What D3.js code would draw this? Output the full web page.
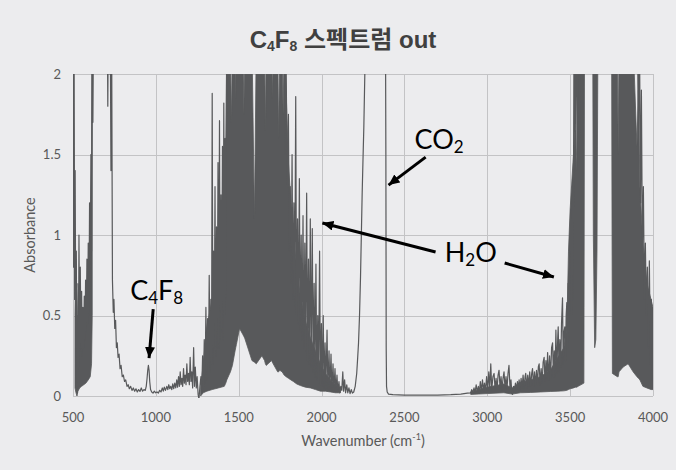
<!DOCTYPE html>
<html>
<head>
<meta charset="utf-8">
<script src="https://cdn.jsdelivr.net/npm/d3@7"></script>
<style>
  body { margin: 0; background: #ececee; }
  svg { display: block; }
</style>
</head>
<body>
<svg id="chart" width="676" height="470"></svg>
<script>
// tick values
var xTicks = [500, 1000, 1500, 2000, 2500, 3000, 3500, 4000];
var yTicks = [0, 0.5, 1, 1.5, 2];

// trace, [wavenumber, absorbance]
var lowRange = [[500,2.5],[503,0.8],[506,2.5],[510,0.6],[513,1.4],[517,0.3],[520,0.9],[523,0.12],[526,0.02],[529,0.5],[533,0.18],[536,1.0],[540,0.3],[544,0.8],[548,0.28],[552,0.65],[556,0.25],[560,0.55],[564,0.3],[568,0.62],[572,0.35],[576,0.72],[580,0.4],[584,0.85],[588,0.45],[592,0.95],[596,0.5],[600,1.2],[604,0.65],[608,1.5],[612,0.9],[616,2.5],[620,1.7],[625,2.5],[629,2.1],[634,2.5],[700,2.6],[706,2.5],[710,1.8],[714,2.5],[719,2.0],[724,2.5],[729,1.4],[733,2.3],[738,0.72],[743,0.52],[747,0.6],[752,0.42],[757,0.47],[762,0.3],[767,0.33],[772,0.24],[778,0.26],[784,0.17],[790,0.19],[797,0.12],[804,0.13],[811,0.09],[818,0.1],[826,0.06],[833,0.07],[840,0.045],[848,0.06],[856,0.035],[864,0.05],[872,0.03],[880,0.045],[888,0.025],[896,0.04],[904,0.028],[912,0.05],[920,0.03],[928,0.04],[936,0.035],[942,0.06],[947,0.11],[951,0.16],[955,0.19],[959,0.16],[963,0.09],[968,0.04],[975,0.025],[983,0.018],[991,0.03],[999,0.02],[1007,0.025],[1015,0.018],[1023,0.035],[1031,0.025],[1039,0.05],[1045,0.03],[1051,0.055],[1058,0.035],[1066,0.06],[1072,0.04],[1078,0.07],[1084,0.045],[1090,0.06],[1096,0.04],[1102,0.075],[1108,0.045],[1114,0.08],[1120,0.05],[1126,0.1],[1131,0.055],[1137,0.12],[1142,0.06],[1147,0.15],[1152,0.07],[1157,0.11],[1162,0.06],[1167,0.17],[1172,0.08],[1177,0.13],[1182,0.07],[1187,0.2],[1192,0.09],[1197,0.14],[1202,0.07],[1207,0.24],[1212,0.09],[1217,0.15],[1222,0.05],[1228,0.3],[1233,0.06],[1238,0.18],[1244,0.05],[1249,0.12],[1255,0.01],[1260,-0.02],[1266,0.06]];

var bendSpikes = [[1272,0.12],[1277,0.03],[1282,0.25],[1287,0.05],[1292,0.35],[1297,0.08],[1302,0.55],[1307,0.1],[1312,0.48],[1317,0.12],[1322,0.75],[1327,0.15],[1332,0.6],[1336,0.2],[1340,1.88],[1344,0.2],[1348,0.9],[1352,0.3],[1357,1.3],[1361,0.25],[1366,1.05],[1370,0.3],[1375,1.45],[1379,0.3],[1384,1.71],[1388,0.35],[1393,1.25],[1397,0.4],[1402,1.55],[1406,0.35],[1410,1.82],[1414,0.5],[1418,1.6],[1422,0.6],[1428,2.4],[1775,2.4],[1780,1.5],[1785,2.2],[1790,1.61],[1795,1.3],[1800,1.75],[1805,0.9],[1811,1.3],[1816,0.7],[1822,1.5],[1827,0.6],[1833,1.2],[1838,0.55],[1844,1.86],[1849,0.5],[1855,1.1],[1860,0.45],[1866,1.35],[1871,0.4],[1877,1.0],[1882,0.35],[1888,1.12],[1893,0.3],[1899,0.95],[1904,0.28],[1910,1.26],[1915,0.22],[1921,0.85],[1926,0.2],[1932,1.1],[1937,0.18],[1944,1.04],[1949,0.15],[1955,0.7],[1960,0.12],[1966,0.82],[1971,0.1],[1977,0.5],[1982,0.08],[1988,0.9],[1993,0.07],[1999,0.45],[2004,0.06],[2010,0.5],[2015,0.05],[2021,0.33],[2026,0.045],[2033,0.41],[2038,0.04],[2045,0.28],[2050,0.035],[2057,0.26],[2062,0.03],[2069,0.2],[2074,0.03],[2081,0.17],[2086,0.025],[2093,0.13],[2098,0.025],[2105,0.09],[2110,0.02],[2116,0.06]];

var co2Range = [[2122,0.035],[2128,0.15],[2133,0.03],[2139,0.1],[2145,0.02],[2152,0.07],[2158,0.02],[2165,0.05],[2172,0.015],[2179,0.04],[2186,0.018],[2194,0.025],[2203,0.06],[2212,0.14],[2218,0.24],[2223,0.33],[2229,0.5],[2235,0.74],[2240,1.0],[2245,1.26],[2250,1.47],[2255,1.67],[2261,2.0],[2266,2.5],[2385,2.5],[2388,1.5],[2390,0.3],[2392,0.06],[2396,0.025],[2404,0.012],[2430,0.008],[2500,0.006],[2600,0.005],[2700,0.006],[2780,0.008],[2840,0.012],[2880,0.018],[2900,0.02]];

var stretchSpikes = [[2906,0.04],[2912,0.02],[2920,0.05],[2926,0.02],[2933,0.07],[2939,0.025],[2946,0.06],[2952,0.02],[2958,0.09],[2964,0.03],[2971,0.1],[2977,0.03],[2983,0.08],[2989,0.03],[2996,0.12],[3002,0.035],[3009,0.15],[3015,0.04],[3021,0.2],[3027,0.04],[3034,0.12],[3041,0.14],[3047,0.04],[3053,0.11],[3059,0.04],[3065,0.13],[3071,0.16],[3077,0.05],[3083,0.12],[3089,0.04],[3095,0.11],[3101,0.15],[3107,0.05],[3113,0.12],[3119,0.045],[3125,0.14],[3131,0.19],[3137,0.05],[3143,0.1],[3148,0.02],[3152,0.01],[3158,0.06],[3164,0.03],[3170,0.08],[3176,0.04],[3182,0.09],[3188,0.04],[3192,0.1],[3198,0.04],[3204,0.11],[3210,0.05],[3216,0.13],[3222,0.05],[3228,0.12],[3232,0.14],[3238,0.05],[3244,0.13],[3250,0.06],[3256,0.15],[3262,0.06],[3268,0.14],[3273,0.17],[3279,0.06],[3285,0.15],[3291,0.07],[3297,0.16],[3303,0.07],[3308,0.18],[3313,0.2],[3319,0.07],[3325,0.17],[3331,0.08],[3337,0.21],[3343,0.24],[3348,0.09],[3354,0.22],[3359,0.1],[3364,0.27],[3370,0.1],[3376,0.25],[3382,0.11],[3388,0.3],[3394,0.33],[3399,0.12],[3404,0.28],[3409,0.12],[3414,0.41],[3420,0.14],[3425,0.36],[3428,0.43],[3433,0.15],[3438,0.35],[3443,0.18],[3448,0.45],[3454,0.61],[3458,0.2],[3463,0.4],[3468,0.43],[3472,0.22],[3476,0.5],[3480,0.58],[3484,0.3],[3488,0.7],[3493,0.35],[3498,0.9],[3504,1.16],[3508,0.5],[3513,1.3],[3518,0.6],[3524,2.5],[3530,1.4],[3536,2.5],[3542,1.5],[3550,2.5],[3556,1.6],[3562,2.5],[3905,2.5],[3912,1.5],[3918,2.3],[3925,1.2],[3930,1.9],[3936,0.9],[3942,1.3],[3948,0.6],[3954,0.95],[3960,0.5],[3966,0.8],[3972,0.3],[3978,0.84],[3984,0.2],[3990,0.6],[3996,0.1],[4000,0.55]];

// dense parts of the trace, [wavenumber, low edge, high edge]
var lowBand = [[512,0.05,0.5],[518,0.02,0.85],[524,0.0,0.3],[530,0.03,0.7],[540,0.05,0.6],[552,0.06,0.48],[565,0.07,0.45],[578,0.08,0.55],[592,0.1,0.72],[604,0.12,0.95],[612,0.2,1.4],[616,0.5,2.2]];

var bendBand = [[1270,0.0,0.05],[1286,0.02,0.2],[1308,0.03,0.43],[1340,0.04,0.6],[1377,0.05,0.8],[1413,0.06,1.05],[1422,0.08,1.5],[1428,0.1,2.2],[1450,0.15,2.2],[1456,0.17,1.7],[1462,0.19,2.2],[1478,0.28,2.2],[1482,0.3,1.85],[1486,0.32,2.2],[1505,0.42,2.2],[1526,0.38,2.2],[1531,0.37,1.75],[1536,0.36,2.2],[1580,0.22,2.2],[1595,0.21,1.1],[1606,0.2,2.2],[1640,0.25,2.2],[1656,0.22,2.2],[1661,0.2,1.65],[1666,0.19,2.2],[1698,0.22,2.2],[1703,0.21,1.85],[1708,0.2,2.2],[1735,0.15,2.2],[1741,0.15,1.6],[1747,0.16,2.2],[1762,0.15,2.2],[1768,0.14,1.75],[1774,0.13,2.2],[1786,0.12,1.9],[1800,0.11,1.45],[1815,0.1,1.2],[1830,0.09,1.0],[1850,0.075,0.8],[1872,0.065,0.62],[1902,0.055,0.47],[1933,0.05,0.36],[1963,0.04,0.28],[1993,0.03,0.2],[2023,0.03,0.14],[2054,0.025,0.1],[2084,0.02,0.07],[2114,0.02,0.04]];

var stretchBand = [[2900,0.01,0.025],[3000,0.015,0.055],[3100,0.02,0.075],[3150,0.012,0.05],[3200,0.02,0.085],[3260,0.022,0.1],[3320,0.025,0.12],[3380,0.028,0.16],[3426,0.03,0.24],[3462,0.032,0.3],[3480,0.035,0.42],[3490,0.04,0.9],[3500,0.045,1.16],[3520,0.05,1.5],[3532,0.055,1.65],[3540,0.055,1.4],[3548,0.06,2.2],[3583,0.08,2.2],[3587,2.3,2.3],[3636,2.3,2.3],[3640,1.0,2.2],[3648,0.3,2.2],[3655,0.35,2.2],[3662,0.9,2.2],[3668,2.3,2.3],[3750,2.3,2.3],[3755,0.14,2.2],[3785,0.12,2.2],[3790,0.12,1.5],[3795,0.15,2.2],[3820,0.18,2.2],[3850,0.2,2.2],[3880,0.15,2.2],[3903,0.12,1.55],[3912,0.11,1.9],[3921,0.1,1.3],[3939,0.06,0.95],[3963,0.05,0.7],[3988,0.04,0.6],[4000,0.04,0.55]];

// annotations in data units: label start and arrows [from wn, from abs, to wn, to abs]
var labels = [
  { parts: [["C", 0], ["4", 1], ["F", 0], ["8", 1]], wn: 845, abs: 0.596 },
  { parts: [["CO", 0], ["2", 1]], wn: 2561, abs: 1.534 },
  { parts: [["H", 0], ["2", 1], ["O", 0]], wn: 2743, abs: 0.832 }
];
var arrows = [
  [984, 0.54, 959, 0.236],
  [2628, 1.484, 2404, 1.31],
  [2688, 0.894, 2005, 1.075],
  [3105, 0.826, 3402, 0.739]
];

var W = 676, H = 470;
var pLeft = 73, pRight = 653, pTop = 74, pBottom = 396;
var ink = "#58595b", grid = "#c3c3c5", tickCol = "#595959";
var font = "Lato, 'Open Sans', sans-serif";

var x = d3.scaleLinear().domain([500, 4000]).range([pLeft, pRight]);
var y = d3.scaleLinear().domain([0, 2]).range([pBottom, pTop]);

var svg = d3.select("#chart");
svg.append("rect").attr("width", W).attr("height", H).attr("fill", "#ececee");

var defs = svg.append("defs");
defs.append("clipPath").attr("id", "plot")
  .append("rect").attr("x", pLeft).attr("y", pTop)
  .attr("width", pRight - pLeft).attr("height", pBottom - pTop + 2);
defs.append("marker")
    .attr("id", "head")
    .attr("markerUnits", "userSpaceOnUse")
    .attr("markerWidth", 12).attr("markerHeight", 10)
    .attr("refX", 11).attr("refY", 5)
    .attr("orient", "auto")
  .append("path").attr("d", "M0,0 L11,5 L0,10 Z").attr("fill", "#000");

// gridlines
svg.append("g").selectAll("line")
    .data(yTicks)
    .enter()
  .append("line")
    .attr("x1", pLeft).attr("x2", pRight)
    .attr("y1", function (d) { return Math.round(y(d)) + 0.5; })
    .attr("y2", function (d) { return Math.round(y(d)) + 0.5; })
    .attr("stroke", grid).attr("stroke-width", 1);

svg.append("g").selectAll("line")
    .data(xTicks)
    .enter()
  .append("line")
    .attr("x1", function (d) { return Math.round(x(d)) + 0.5; })
    .attr("x2", function (d) { return Math.round(x(d)) + 0.5; })
    .attr("y1", pTop).attr("y2", pBottom)
    .attr("stroke", grid).attr("stroke-width", 1);

// spectrum
var plot = svg.append("g").attr("clip-path", "url(#plot)");

var area = d3.area()
  .x(function (d) { return x(d[0]); })
  .y0(function (d) { return y(d[1]); })
  .y1(function (d) { return y(d[2]); });

plot.selectAll("path.band")
    .data([lowBand, bendBand, stretchBand])
    .enter()
  .append("path")
    .attr("class", "band")
    .attr("d", area)
    .attr("fill", ink)
    .attr("stroke", ink)
    .attr("stroke-width", 0.8);

var line = d3.line()
  .x(function (d) { return x(d[0]); })
  .y(function (d) { return y(d[1]); });

var trace = lowRange.concat(bendSpikes, co2Range, stretchSpikes);
plot.append("path")
  .attr("d", line(trace))
  .attr("fill", "none")
  .attr("stroke", ink)
  .attr("stroke-width", 1.2)
  .attr("stroke-linejoin", "round");

// tick labels
svg.append("g").selectAll("text")
    .data(yTicks)
    .enter()
  .append("text")
    .attr("x", 61)
    .attr("y", function (d) { return y(d); })
    .attr("dy", "0.35em")
    .attr("text-anchor", "end")
    .attr("font-family", font).attr("font-size", 13)
    .attr("fill", tickCol)
    .text(function (d) { return d; });

svg.append("g").selectAll("text")
    .data(xTicks)
    .enter()
  .append("text")
    .attr("x", function (d) { return x(d); })
    .attr("y", 422)
    .attr("text-anchor", "middle")
    .attr("font-family", font).attr("font-size", 13)
    .attr("fill", tickCol)
    .text(function (d) { return d; });

// axis titles
var xt = svg.append("text")
  .attr("x", (pLeft + pRight) / 2).attr("y", 446)
  .attr("text-anchor", "middle")
  .attr("font-family", font).attr("font-size", 14.5)
  .attr("fill", tickCol);
xt.append("tspan").text("Wavenumber (cm");
xt.append("tspan").attr("font-size", 9).attr("dy", -6).text("-1");
xt.append("tspan").attr("dy", 6).text(")");

svg.append("text")
  .attr("transform", "translate(35," + (pTop + pBottom) / 2 + ") rotate(-90)")
  .attr("text-anchor", "middle")
  .attr("font-family", font).attr("font-size", 14.5)
  .attr("fill", tickCol)
  .text("Absorbance");

// title
var title = svg.append("text")
  .attr("x", 343).attr("y", 48)
  .attr("text-anchor", "middle")
  .attr("font-family", "'Liberation Sans', 'Noto Sans CJK KR', sans-serif")
  .attr("font-weight", "bold")
  .attr("font-size", 24)
  .attr("fill", "#404040");
title.append("tspan").text("C");
title.append("tspan").attr("font-size", 14).attr("dy", 3).text("4");
title.append("tspan").attr("dy", -3).text("F");
title.append("tspan").attr("font-size", 14).attr("dy", 3).text("8");
title.append("tspan").attr("dy", -3).text(" 스펙트럼 out");

// annotations
labels.forEach(function (lab) {
  var t = svg.append("text")
    .attr("x", x(lab.wn)).attr("y", y(lab.abs))
    .attr("font-family", font).attr("font-size", 27)
    .attr("fill", "#000");
  var shifted = 0;
  lab.parts.forEach(function (p) {
    var dy = p[1] ? 4 - shifted : -shifted;
    shifted += dy;
    t.append("tspan")
      .attr("dy", dy)
      .attr("font-size", p[1] ? 17 : 27)
      .text(p[0]);
  });
});

svg.append("g").selectAll("line")
    .data(arrows)
    .enter()
  .append("line")
    .attr("x1", function (d) { return x(d[0]); })
    .attr("y1", function (d) { return y(d[1]); })
    .attr("x2", function (d) { return x(d[2]); })
    .attr("y2", function (d) { return y(d[3]); })
    .attr("stroke", "#000")
    .attr("stroke-width", 3)
    .attr("marker-end", "url(#head)");
</script>
</body>
</html>
